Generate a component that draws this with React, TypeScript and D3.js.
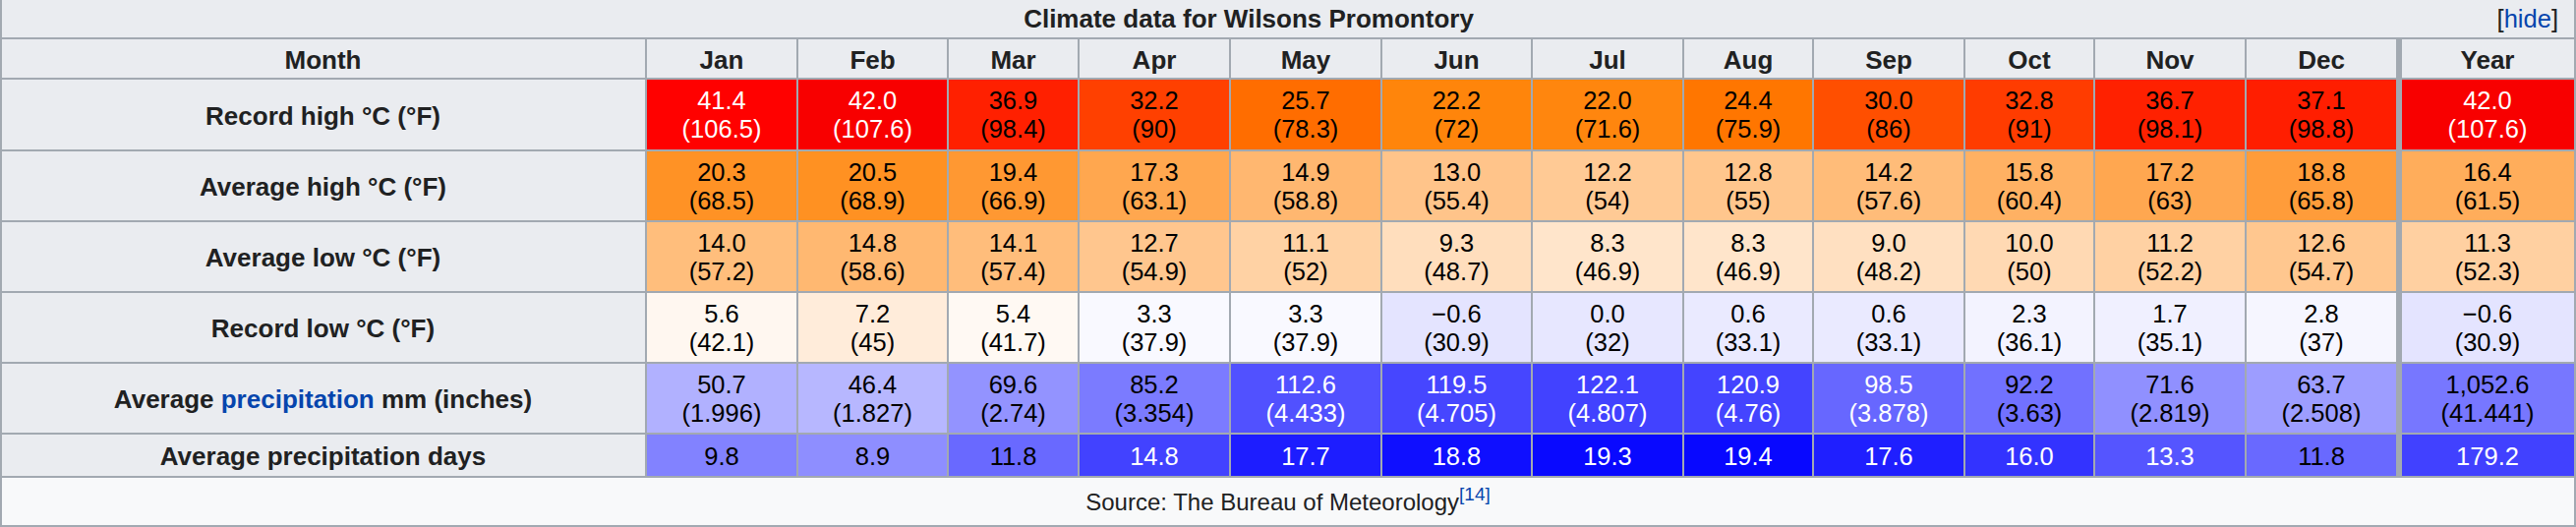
import React, { useEffect } from 'react';
import * as d3 from 'd3';

// ---------- data ----------
const categories = ['Jan', 'Feb', 'Mar', 'Apr', 'May', 'Jun', 'Jul', 'Aug', 'Sep', 'Oct', 'Nov', 'Dec', 'Year'];

const recordHighC = [41.4, 42.0, 36.9, 32.2, 25.7, 22.2, 22.0, 24.4, 30.0, 32.8, 36.7, 37.1, 42.0];
const recordHighF = ['106.5', '107.6', '98.4', '90', '78.3', '72', '71.6', '75.9', '86', '91', '98.1', '98.8', '107.6'];
const avgHighC = [20.3, 20.5, 19.4, 17.3, 14.9, 13.0, 12.2, 12.8, 14.2, 15.8, 17.2, 18.8, 16.4];
const avgHighF = ['68.5', '68.9', '66.9', '63.1', '58.8', '55.4', '54', '55', '57.6', '60.4', '63', '65.8', '61.5'];
const avgLowC = [14.0, 14.8, 14.1, 12.7, 11.1, 9.3, 8.3, 8.3, 9.0, 10.0, 11.2, 12.6, 11.3];
const avgLowF = ['57.2', '58.6', '57.4', '54.9', '52', '48.7', '46.9', '46.9', '48.2', '50', '52.2', '54.7', '52.3'];
const recordLowC = [5.6, 7.2, 5.4, 3.3, 3.3, -0.6, 0.0, 0.6, 0.6, 2.3, 1.7, 2.8, -0.6];
const recordLowF = ['42.1', '45', '41.7', '37.9', '37.9', '30.9', '32', '33.1', '33.1', '36.1', '35.1', '37', '30.9'];
const precipMm = [50.7, 46.4, 69.6, 85.2, 112.6, 119.5, 122.1, 120.9, 98.5, 92.2, 71.6, 63.7, 1052.6];
const precipIn = ['1.996', '1.827', '2.74', '3.354', '4.433', '4.705', '4.807', '4.76', '3.878', '3.63', '2.819', '2.508', '41.441'];
const precipDays = [9.8, 8.9, 11.8, 14.8, 17.7, 18.8, 19.3, 19.4, 17.6, 16.0, 13.3, 11.8, 179.2];

const title = 'Climate data for Wilsons Promontory';
const sourceText = 'Source: The Bureau of Meteorology';
const sourceRef = '[14]';

// ---------- layout ----------
const W = 2620;
const H = 536;
const LABEL_RIGHT = 657;
const colWidths = [154, 153, 133, 154, 154, 153, 154, 132, 154, 132, 154, 154, 181];
const rowEdges = [39, 80, 153, 225, 297, 369, 441, 485, 535];
const FONT = '"Liberation Sans", Arial, Helvetica, sans-serif';
const FS = 25.5;
const FS_BOLD = 26;
const LINE = 29;
const GRID = '#a2a9b1';
const HEAD_BG = '#eaecf0';
const FOOT_BG = '#f8f9fa';
const TXT = '#202122';
const LINK = '#0645ad';

// ---------- colour scales ----------
const tR = d3.scaleLinear().domain([-42.75, 4.47, 41.5, 60]).range([0, 255, 255, 0]).clamp(true);
const tG = d3.scaleLinear().domain([-42.75, 4.47, 4.5, 41.5]).range([0, 255, 255, 0]).clamp(true);
const tB = d3.scaleLinear().domain([-90, -42.78, 4.5, 23]).range([0, 255, 255, 0]).clamp(true);
const pRG = d3.scaleLinear().domain([0, 165]).range([255, 0]).clamp(true);
const dRG = d3.scaleLinear().domain([0, 20]).range([255, 0]).clamp(true);

function cellStyle(kind: string, v: number, isYear: boolean) {
  if (kind === 'temp') {
    const bg = d3.rgb(Math.round(tR(v)), Math.round(tG(v)), Math.round(tB(v))).formatHex();
    const fg = v >= 37.8 || v < -23.3 ? '#ffffff' : '#000000';
    return { bg, fg };
  }
  const m = isYear ? v / 12 : v;
  const c = kind === 'precip' ? pRG(m) : dRG(m);
  const bg = d3.rgb(Math.round(c), Math.round(c), 255).formatHex();
  const fg = c < 104 ? '#ffffff' : '#000000';
  return { bg, fg };
}

const fmt1 = d3.format('.1f');
const fmtC = d3.format(',.1f');

const rows = [
  { label: [{ t: 'Record high °C (°F)' }], kind: 'temp', main: recordHighC, sub: recordHighF },
  { label: [{ t: 'Average high °C (°F)' }], kind: 'temp', main: avgHighC, sub: avgHighF },
  { label: [{ t: 'Average low °C (°F)' }], kind: 'temp', main: avgLowC, sub: avgLowF },
  { label: [{ t: 'Record low °C (°F)' }], kind: 'temp', main: recordLowC, sub: recordLowF },
  {
    label: [{ t: 'Average ' }, { t: 'precipitation', link: true }, { t: ' mm (inches)' }],
    kind: 'precip',
    main: precipMm,
    sub: precipIn,
  },
  { label: [{ t: 'Average precipitation days' }], kind: 'days', main: precipDays, sub: null as string[] | null },
];

export default function App() {
  useEffect(() => {
    document.body.style.margin = '0';
  }, []);

  const colEdges = [LABEL_RIGHT, ...Array.from(d3.cumsum(colWidths), (s) => LABEL_RIGHT + s)];
  const x = (i: number) => colEdges[i];
  const yearIdx = categories.length - 1;

  const cells: React.ReactNode[] = [];
  const texts: React.ReactNode[] = [];

  // header row
  const hy0 = rowEdges[0];
  const hy1 = rowEdges[1];
  const hc = (hy0 + hy1) / 2;
  texts.push(
    <text key="h-month" x={LABEL_RIGHT / 2} y={hc + 10} textAnchor="middle" fontWeight="bold" fontSize={FS_BOLD} fill={TXT}>
      Month
    </text>
  );
  categories.forEach((c, i) => {
    const cx = i === yearIdx ? (x(i) + 3 + x(i + 1)) / 2 : (x(i) + x(i + 1)) / 2;
    texts.push(
      <text key={'h-' + c} x={cx} y={hc + 10} textAnchor="middle" fontWeight="bold" fontSize={FS_BOLD} fill={TXT}>
        {c}
      </text>
    );
  });

  rows.forEach((r, ri) => {
    const y0 = rowEdges[ri + 1];
    const y1 = rowEdges[ri + 2];
    const cy = (y0 + y1) / 2;
    texts.push(
      <text key={'l-' + ri} x={LABEL_RIGHT / 2} y={cy + 10} textAnchor="middle" fontWeight="bold" fontSize={FS_BOLD} fill={TXT}>
        {r.label.map((p: any, k: number) => (
          <tspan key={k} fill={p.link ? LINK : TXT}>
            {p.t}
          </tspan>
        ))}
      </text>
    );
    categories.forEach((c, i) => {
      const v = r.main[i];
      const isYear = i === yearIdx;
      const { bg, fg } = cellStyle(r.kind, v, isYear);
      cells.push(<rect key={`c-${ri}-${i}`} x={x(i)} y={y0} width={x(i + 1) - x(i)} height={y1 - y0} fill={bg} />);
      const cx = isYear ? (x(i) + 3 + x(i + 1)) / 2 : (x(i) + x(i + 1)) / 2;
      const mainStr = r.kind === 'precip' ? fmtC(v) : fmt1(v);
      if (r.sub) {
        texts.push(
          <text key={`t-${ri}-${i}`} x={cx} textAnchor="middle" fill={fg}>
            <tspan x={cx} y={cy - 5.2}>{mainStr}</tspan>
            <tspan x={cx} y={cy - 5.2 + LINE}>{'(' + r.sub[i] + ')'}</tspan>
          </text>
        );
      } else {
        texts.push(
          <text key={`t-${ri}-${i}`} x={cx} y={cy + 9.5} textAnchor="middle" fill={fg}>
            {mainStr}
          </text>
        );
      }
    });
  });

  // grid lines
  const lines: React.ReactNode[] = [];
  rowEdges.forEach((ry, i) => {
    lines.push(<rect key={'hl' + i} x={0} y={ry - 1} width={W} height={2} fill={GRID} />);
  });
  const gy0 = rowEdges[0];
  const gy1 = rowEdges[rowEdges.length - 2];
  colEdges.slice(0, -1).forEach((cx, i) => {
    lines.push(<rect key={'vl' + i} x={cx - 1} y={gy0} width={2} height={gy1 - gy0} fill={GRID} />);
  });
  // thicker separator before Year
  lines.push(<rect key="ysep" x={x(yearIdx) - 1} y={gy0} width={6} height={gy1 - gy0} fill={GRID} />);
  // outer borders
  lines.push(<rect key="ob-l" x={0} y={0} width={2} height={H} fill={GRID} />);
  lines.push(<rect key="ob-r" x={W - 2} y={0} width={2} height={H} fill={GRID} />);

  const footY0 = rowEdges[rowEdges.length - 2];
  const footY1 = rowEdges[rowEdges.length - 1];

  return (
    <svg
      width={W}
      height={H}
      viewBox={`0 0 ${W} ${H}`}
      style={{ position: 'absolute', left: 0, top: 0, display: 'block' }}
      fontFamily={FONT}
      fontSize={FS}
    >
      <rect x={0} y={0} width={W} height={rowEdges[1]} fill={HEAD_BG} />
      <rect x={0} y={0} width={LABEL_RIGHT} height={footY0} fill={HEAD_BG} />
      <rect x={0} y={footY0} width={W} height={footY1 - footY0} fill={FOOT_BG} />
      {cells}
      {lines}
      <text x={1270} y={28} textAnchor="middle" fontWeight="bold" fontSize={FS_BOLD} fill={TXT}>
        {title}
      </text>
      <text x={2602} y={28} textAnchor="end" fill={TXT}>
        [<tspan fill={LINK}>hide</tspan>]
      </text>
      {texts}
      <text x={W / 2} y={(footY0 + footY1) / 2 + 9} textAnchor="middle" fill={TXT} fontSize={24}>
        {sourceText}
        <tspan fill={LINK} fontSize={19} dy={-10}>
          {sourceRef}
        </tspan>
      </text>
    </svg>
  );
}
